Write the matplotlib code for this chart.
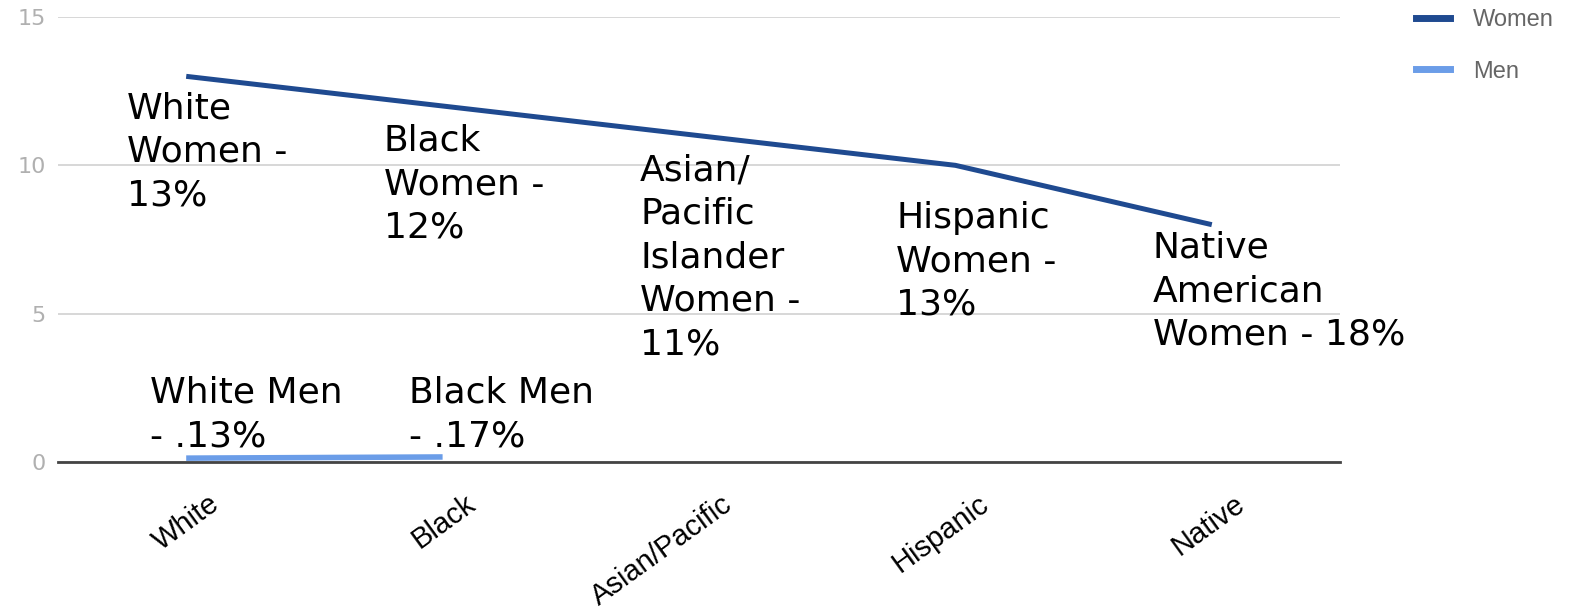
import matplotlib
matplotlib.use('Agg')
import matplotlib.pyplot as plt
from matplotlib.lines import Line2D
from matplotlib.transforms import ScaledTranslation

# data
groups = ['White', 'Black', 'Asian/Pacific', 'Hispanic', 'Native']
women = [13, 12, 11, 10, 8]
men = [0.13, 0.17]
women_labels = ['White\nWomen -\n13%', 'Black\nWomen -\n12%',
                'Asian/\nPacific\nIslander\nWomen -\n11%',
                'Hispanic\nWomen -\n13%', 'Native\nAmerican\nWomen - 18%']
men_labels = ['White Men\n- .13%', 'Black Men\n- .17%']

dark_blue = '#1f4a90'
light_blue = '#6b9de8'

fig = plt.figure(figsize=(15.95, 6.11), dpi=100)
ax = fig.add_axes([58 / 1595, 149 / 611, (1340 - 58) / 1595, 445 / 611])

x = list(range(len(groups)))
ax.plot(x, women, color=dark_blue, lw=3.6, solid_capstyle='butt', zorder=3)
ax.plot(x[:len(men)], men, color=light_blue, lw=4, solid_capstyle='butt', zorder=3)

ax.set_xlim(-0.5, len(groups) - 0.5)
ax.set_ylim(0, 15)
ax.set_yticks([0, 5, 10, 15])
ax.grid(axis='y', color='#d4d4d4', lw=1.3)
ax.set_axisbelow(True)
for s in ['top', 'right', 'left']:
    ax.spines[s].set_visible(False)
ax.spines['bottom'].set_color('#444444')
ax.spines['bottom'].set_linewidth(2)
ax.tick_params(axis='y', length=0, pad=9, labelsize=16, labelcolor='#b0b0b0')
ax.tick_params(axis='x', length=0, pad=20)
ax.set_xticks(x)
ax.set_xticklabels(groups, rotation=36, ha='right', va='top',
                   rotation_mode='anchor', fontsize=21,
                   fontfamily='Liberation Sans')
# labels sit a little right of their ticks in the original
shift = ScaledTranslation(0.22, 0, fig.dpi_scale_trans)
for lbl in ax.get_xticklabels():
    lbl.set_transform(lbl.get_transform() + shift)

# text boxes placed by hand in the original
w_dx = [-0.23, -0.23, -0.23, -0.23, -0.23]
w_top = [12.5, 11.4, 10.4, 8.8, 7.8]
for xi, lab, dx, ty in zip(x, women_labels, w_dx, w_top):
    ax.text(xi + dx, ty, lab, fontsize=26, va='top', ha='left',
            linespacing=1.35, color='black', zorder=4)
m_dx = [-0.14, -0.13]
for xi, lab, dx in zip(x, men_labels, m_dx):
    ax.text(xi + dx, 2.9, lab, fontsize=26, va='top', ha='left',
            linespacing=1.35, color='black', zorder=4)

handles = [Line2D([], [], color=dark_blue, lw=5),
           Line2D([], [], color=light_blue, lw=5)]
fig.legend(handles, ['Women', 'Men'], loc='upper left',
           bbox_to_anchor=(1395 / 1595, 1.02), frameon=False,
           labelcolor='#666666', handlelength=1.45,
           labelspacing=1.25, handletextpad=0.95,
           prop={'family': 'Liberation Sans', 'size': 17})

fig.savefig('out.png', dpi=100)
